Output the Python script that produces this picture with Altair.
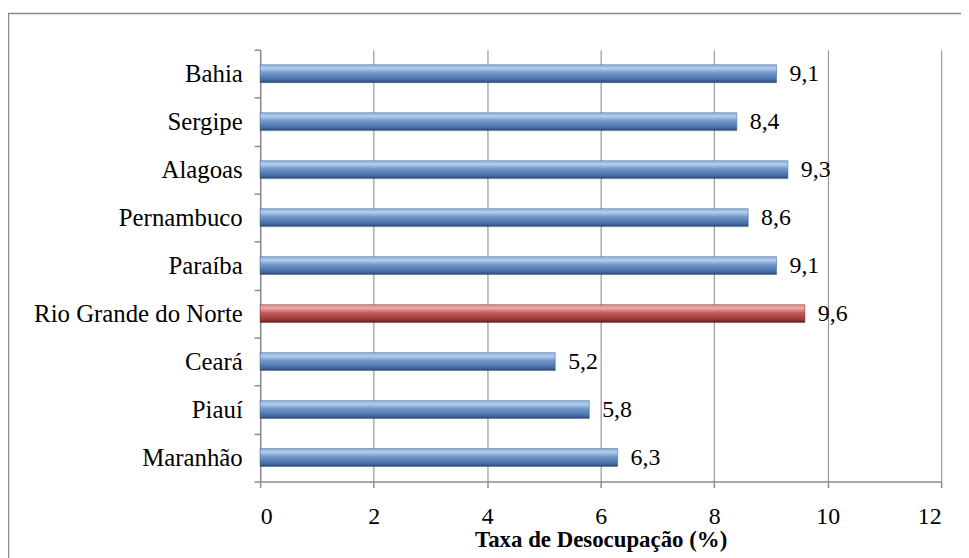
import altair as alt
import pandas as pd

states = ["Bahia", "Sergipe", "Alagoas", "Pernambuco", "Paraíba",
          "Rio Grande do Norte", "Ceará", "Piauí", "Maranhão"]
rates = [9.1, 8.4, 9.3, 8.6, 9.1, 9.6, 5.2, 5.8, 6.3]
labels = ["9,1", "8,4", "9,3", "8,6", "9,1", "9,6", "5,2", "5,8", "6,3"]
highlight = "Rio Grande do Norte"
x_ticks = [0, 2, 4, 6, 8, 10, 12]

df = pd.DataFrame({"state": states, "rate": rates, "label": labels})

FONT = "Liberation Serif, Times New Roman, serif"
W, H = 686, 435

blue_grad = alt.Gradient(
    gradient="linear", x1=0, y1=0, x2=0, y2=1,
    stops=[alt.GradientStop(offset=0, color="#8fb0da"),
           alt.GradientStop(offset=0.2, color="#b3cdee"),
           alt.GradientStop(offset=0.45, color="#6f97cc"),
           alt.GradientStop(offset=0.8, color="#4a74a8"),
           alt.GradientStop(offset=1, color="#2b4a72")])
red_grad = alt.Gradient(
    gradient="linear", x1=0, y1=0, x2=0, y2=1,
    stops=[alt.GradientStop(offset=0, color="#d98a88"),
           alt.GradientStop(offset=0.2, color="#eeaaa8"),
           alt.GradientStop(offset=0.45, color="#c65a57"),
           alt.GradientStop(offset=0.8, color="#9c3c3a"),
           alt.GradientStop(offset=1, color="#5e2220")])

y_enc = alt.Y("state:N", sort=states, title=None,
              scale=alt.Scale(paddingInner=0, paddingOuter=0),
              axis=alt.Axis(tickBand="extent", labelFont=FONT, labelFontSize=25,
                            labelColor="black", labelPadding=12, labelLimit=0,
                            tickSize=6, tickColor="#8c8c8c", domainColor="#8c8c8c",
                            domainWidth=1.5, tickWidth=1.5, grid=False))
x_enc = alt.X("rate:Q", title="Taxa de Desocupação (%)",
              scale=alt.Scale(domain=[0, 12], nice=False),
              axis=alt.Axis(values=x_ticks, format="d", labelFont=FONT,
                            labelFontSize=24, labelColor="black", labelPadding=17,
                            tickSize=6, tickColor="#8c8c8c", domainColor="#8c8c8c",
                            domainWidth=1.5, tickWidth=1.5, grid=True,
                            gridColor="#999999", gridWidth=1.2,
                            titleFont=FONT, titleFontSize=23, titleFontWeight="bold",
                            titleColor="black", titlePadding=0))

frame = alt.Chart(pd.DataFrame({"a": [0]})).mark_rect(
    fill=None, stroke="#8c8c8c", strokeWidth=1.5
).encode(x=alt.value(-253.5), x2=alt.value(W + 200),
         y=alt.value(-36.5), y2=alt.value(H + 200))

base = alt.Chart(df)
blue = base.transform_filter(alt.datum.state != highlight).mark_bar(
    size=18, color=blue_grad, stroke="#3a5f8f", strokeWidth=0.5
).encode(x=x_enc, y=y_enc)
red = base.transform_filter(alt.datum.state == highlight).mark_bar(
    size=18, color=red_grad, stroke="#7a2e2c", strokeWidth=0.5
).encode(x=x_enc, y=y_enc)
text = base.mark_text(align="left", baseline="middle", dx=13, font=FONT,
                      fontSize=24, color="black").encode(
    x="rate:Q", y=alt.Y("state:N", sort=states), text="label:N")

chart = alt.layer(frame, blue, red, text).properties(
    width=W, height=H,
    autosize=alt.AutoSizeParams(type="none"),
    padding={"left": 254, "top": 40, "right": 20, "bottom": 75},
).configure_view(stroke=None)

chart.save("out.html", embed_options={"renderer": "svg", "actions": False})
